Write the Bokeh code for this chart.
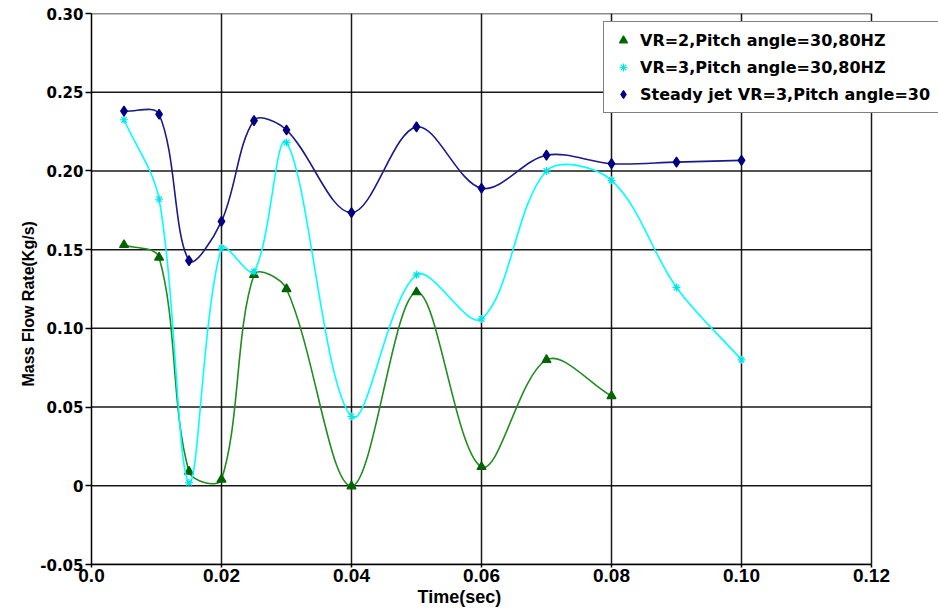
import math
from bokeh.plotting import figure
from bokeh.models import Range1d, FixedTicker, Legend, LegendItem, Title
from bokeh.embed import file_html
from bokeh.resources import INLINE

# ---- data ----
time_vr2 = [0.005, 0.0104, 0.015, 0.020, 0.025, 0.030, 0.040, 0.050, 0.060, 0.070, 0.080]
flow_vr2 = [0.153, 0.145, 0.009, 0.004, 0.134, 0.125, -0.0003, 0.123, 0.012, 0.080, 0.057]

time_vr3 = [0.005, 0.0104, 0.015, 0.020, 0.025, 0.030, 0.040, 0.050, 0.060, 0.070, 0.080, 0.090, 0.100]
flow_vr3 = [0.2325, 0.182, 0.002, 0.151, 0.136, 0.218, 0.044, 0.134, 0.106, 0.200, 0.194, 0.126, 0.080]

time_steady = [0.005, 0.0104, 0.015, 0.020, 0.025, 0.030, 0.040, 0.050, 0.060, 0.070, 0.080, 0.090, 0.100]
flow_steady = [0.238, 0.236, 0.143, 0.168, 0.232, 0.226, 0.1735, 0.228, 0.189, 0.210, 0.2046, 0.2056, 0.2067]

series_names = ["VR=2,Pitch angle=30,80HZ",
                "VR=3,Pitch angle=30,80HZ",
                "Steady jet VR=3,Pitch angle=30"]

x_ticks = [0.0, 0.02, 0.04, 0.06, 0.08, 0.10, 0.12]
x_tick_labels = ["0.0", "0.02", "0.04", "0.06", "0.08", "0.10", "0.12"]
y_ticks = [-0.05, 0.0, 0.05, 0.10, 0.15, 0.20, 0.25, 0.30]
y_tick_labels = ["-0.05", "0", "0.05", "0.10", "0.15", "0.20", "0.25", "0.30"]

x_title = "Time(sec)"
y_title = "Mass Flow Rate(Kg/s)"

# ---- layout (pixels) ----
W, H = 938, 611
LEFT, RIGHT_AXIS_END, TOP, BOTTOM = 91, 871, 13, 47
x_lo, x_hi = x_ticks[0], x_ticks[-1]
y_lo, y_hi = y_ticks[0], y_ticks[-1]
frame_w = W - LEFT                      # frame runs to the right edge so the legend may overflow
axis_px = RIGHT_AXIS_END - LEFT
x_end = x_lo + (x_hi - x_lo) * frame_w / axis_px
px_x = axis_px / (x_hi - x_lo)
px_y = (H - TOP - BOTTOM) / (y_hi - y_lo)


def smooth_segments(xs, ys):
    """Smoothed line through the points: cubic Bezier segments with
    chord-length-scaled Catmull-Rom tangents (measured in screen pixels)."""
    n = len(xs)

    def dist(a, b):
        return math.hypot((xs[b] - xs[a]) * px_x, (ys[b] - ys[a]) * px_y)

    out = dict(x0=[], y0=[], x1=[], y1=[], cx0=[], cy0=[], cx1=[], cy1=[])
    for i in range(n - 1):
        i0 = max(i - 1, 0)
        i3 = min(i + 2, n - 1)
        d01, d12, d23 = dist(i0, i), dist(i, i + 1), dist(i + 1, i3)
        f1 = d12 / (d01 + d12) / 3.0 if d01 + d12 > 0 else 0.0
        f2 = d12 / (d12 + d23) / 3.0 if d12 + d23 > 0 else 0.0
        out["x0"].append(xs[i]); out["y0"].append(ys[i])
        out["x1"].append(xs[i + 1]); out["y1"].append(ys[i + 1])
        out["cx0"].append(xs[i] + (xs[i + 1] - xs[i0]) * f1)
        out["cy0"].append(ys[i] + (ys[i + 1] - ys[i0]) * f1)
        out["cx1"].append(xs[i + 1] - (xs[i3] - xs[i]) * f2)
        out["cy1"].append(ys[i + 1] - (ys[i3] - ys[i]) * f2)
    return out


p = figure(width=W, height=H, output_backend="svg", toolbar_location=None,
           x_range=Range1d(x_lo, x_end), y_range=Range1d(y_lo, y_hi),
           min_border_left=LEFT, min_border_right=0, min_border_top=TOP, min_border_bottom=BOTTOM,
           background_fill_color="white", border_fill_color="white")
p.outline_line_color = None

# axes
p.xaxis.ticker = FixedTicker(ticks=x_ticks)
p.yaxis.ticker = FixedTicker(ticks=y_ticks)
p.xaxis.bounds = (x_lo, x_hi)
p.xaxis.major_label_overrides = dict(zip(x_ticks, x_tick_labels))
p.yaxis.major_label_overrides = dict(zip(y_ticks, y_tick_labels))
for ax in (p.xaxis, p.yaxis):
    ax.axis_line_color = "black"
    ax.axis_line_width = 1.5
    ax.major_tick_line_color = "black"
    ax.major_tick_line_width = 1.5
    ax.minor_tick_line_color = None
    ax.major_tick_in = 0
    ax.major_label_text_color = "black"
p.xaxis.major_tick_out = 3
p.yaxis.major_tick_out = 6
p.xaxis.major_label_standoff = 1
p.yaxis.major_label_standoff = 2
p.xaxis.major_label_text_font = "Liberation Sans"
p.xaxis.major_label_text_font_style = "bold"
p.xaxis.major_label_text_font_size = "19px"
p.yaxis.major_label_text_font = "DejaVu Sans"
p.yaxis.major_label_text_font_style = "bold"
p.yaxis.major_label_text_font_size = "15px"

# axis titles placed as titles so they can sit where the reference has them
xt = Title(text=x_title, align="left", offset=326, standoff=0,
           text_font="Liberation Sans", text_font_style="bold", text_font_size="18px",
           text_color="black")
p.add_layout(xt, "below")
yt = Title(text=y_title, align="left", offset=178, standoff=2,
           text_font="Liberation Sans", text_font_style="bold", text_font_size="16px",
           text_color="black")
p.add_layout(yt, "left")

# grid: vertical lines from the x grid, horizontal lines limited to the axis span
p.xgrid.grid_line_color = "black"
p.xgrid.grid_line_width = 1.5
p.xgrid.grid_line_alpha = 0.9
p.ygrid.visible = False
p.segment(x0=[x_lo] * len(y_ticks), x1=[x_hi] * len(y_ticks), y0=y_ticks, y1=y_ticks,
          line_color="black", line_width=1.5, line_alpha=0.9, level="underlay")

line_colors = ["#228B22", "#00FFFF", "#1a1a8a"]
marker_colors = ["#006400", "#00E5E5", "#000080"]
markers = ["triangle", "asterisk", "diamond"]
marker_sizes = [9, 8, 10]
all_x = [time_vr2, time_vr3, time_steady]
all_y = [flow_vr2, flow_vr3, flow_steady]

items = []
for k in range(3):
    seg = smooth_segments(all_x[k], all_y[k])
    p.bezier(x0=seg["x0"], y0=seg["y0"], x1=seg["x1"], y1=seg["y1"],
             cx0=seg["cx0"], cy0=seg["cy0"], cx1=seg["cx1"], cy1=seg["cy1"],
             line_color=line_colors[k], line_width=1.6)
    # legend stand-in for the smoothed line
    lr = p.line(x=[], y=[], line_color=line_colors[k], line_width=1.6)
    sr = p.scatter(x=all_x[k], y=all_y[k], marker=markers[k], size=marker_sizes[k],
                   fill_color=marker_colors[k], line_color=marker_colors[k], line_width=1.2)
    items.append(LegendItem(label=series_names[k], renderers=[lr, sr]))

legend = Legend(items=items, location=(512, 451))
legend.label_text_font = "DejaVu Sans"
legend.label_text_font_style = "bold"
legend.label_text_font_size = "16px"
legend.label_text_color = "black"
legend.label_standoff = 6
legend.glyph_width = 22
legend.glyph_height = 20
legend.label_height = 20
legend.spacing = 7
legend.padding = 8
legend.margin = 0
legend.border_line_color = "black"
legend.border_line_width = 1.2
legend.background_fill_color = "white"
legend.background_fill_alpha = 1.0
p.add_layout(legend)

open("out.html", "w").write(file_html(p, INLINE))
